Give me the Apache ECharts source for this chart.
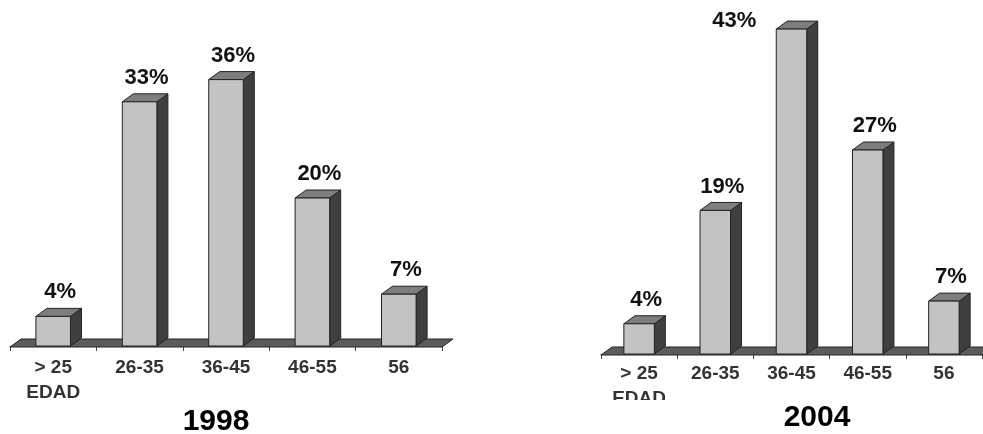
<!DOCTYPE html>
<html>
<head>
<meta charset="utf-8">
<script src="https://cdn.jsdelivr.net/npm/echarts@6/dist/echarts.min.js"></script>
<style>
  html, body { margin: 0; padding: 0; background: #ffffff; }
  #chart { width: 983px; height: 434px; }
</style>
</head>
<body>
<div id="chart"></div>
<script>
// Age groups and the share of each group (%) for the two survey years
const ageGroups = ['> 25\nEDAD', '26-35', '36-45', '46-55', '56'];
const share1998 = [4, 33, 36, 20, 7];
const share2004 = [4, 19, 43, 27, 7];
const yearTitles = ['1998', '2004'];

// Pseudo-3D extrusion of bars and floor
const DEPTH_X = 11;
const DEPTH_Y = 8;
const FONT = '"Liberation Sans", Arial, sans-serif';

const FRONT = '#c3c3c3';
const TOP = '#7e7e7e';
const SIDE = '#3f3f3f';
const FLOOR = '#5c5c5c';
const EDGE = '#222222';

function renderFloor(params, api) {
  const cs = params.coordSys;
  const yb = cs.y + cs.height;
  const x0 = cs.x, x1 = cs.x + cs.width;
  return {
    type: 'polygon',
    shape: { points: [[x0, yb + 1], [x1, yb + 1], [x1 + DEPTH_X, yb + 1 - DEPTH_Y], [x0 + DEPTH_X, yb + 1 - DEPTH_Y]] },
    style: { fill: FLOOR, stroke: EDGE, lineWidth: 1 }
  };
}

function renderBar(params, api) {
  const idx = api.value(0);
  const val = api.value(1);
  const base = api.coord([idx, 0]);
  const top = api.coord([idx, val]);
  const bw = api.size([1, 0])[0] * 0.4;
  const x0 = base[0] - bw / 2, x1 = base[0] + bw / 2;
  const yb = base[1], yt = top[1];
  const dx = DEPTH_X, dy = DEPTH_Y;

  // Value label sits above the bar; when there is no room it moves to the left of the top
  let lx = base[0] + 7, ly = yt - dy - 16;
  if (ly - 11 < 0) { lx = x0 - 42; ly = yt - dy; }

  return {
    type: 'group',
    children: [
      { type: 'polygon',
        shape: { points: [[x1, yt], [x1 + dx, yt - dy], [x1 + dx, yb - dy], [x1, yb]] },
        style: { fill: SIDE, stroke: EDGE, lineWidth: 1 } },
      { type: 'polygon',
        shape: { points: [[x0, yt], [x1, yt], [x1 + dx, yt - dy], [x0 + dx, yt - dy]] },
        style: { fill: TOP, stroke: EDGE, lineWidth: 1 } },
      { type: 'rect',
        shape: { x: x0, y: yt, width: x1 - x0, height: yb - yt },
        style: { fill: FRONT, stroke: EDGE, lineWidth: 1 } },
      { type: 'text',
        style: { text: val + '%', x: lx, y: ly, align: 'center', verticalAlign: 'middle',
                 font: 'bold 22px ' + FONT, fill: '#111111' } }
    ]
  };
}

function xAxisFor(gridIndex, margin) {
  return {
    type: 'category', gridIndex: gridIndex, data: ageGroups,
    axisLine: { show: true, lineStyle: { color: EDGE, width: 1 } },
    axisTick: { show: true, alignWithLabel: false, length: 5, lineStyle: { color: '#444', width: 1 } },
    axisLabel: { margin: margin, fontFamily: FONT, fontWeight: 'bold', fontSize: 19, lineHeight: 25, color: '#333333', interval: 0 },
    splitLine: { show: false }
  };
}

function yAxisFor(gridIndex) {
  return { type: 'value', gridIndex: gridIndex, min: 0, max: 45, show: false, splitLine: { show: false } };
}

function pairs(values) {
  return values.map((v, i) => [i, v]);
}

const chart = echarts.init(document.getElementById('chart'), null, { renderer: 'canvas' });
chart.setOption({
  animation: false,
  backgroundColor: '#ffffff',
  title: [
    { text: yearTitles[0], left: 216, top: 407, textAlign: 'center', padding: 0,
      textStyle: { fontFamily: FONT, fontSize: 30, fontWeight: 'bold', color: '#000' } },
    { text: yearTitles[1], left: 817, top: 403, textAlign: 'center', padding: 0,
      textStyle: { fontFamily: FONT, fontSize: 30, fontWeight: 'bold', color: '#000' } }
  ],
  // the lower-left panel edge of the 2004 chart trims the second line of its first label
  graphic: [
    { type: 'rect', left: 600, top: 400, shape: { width: 80, height: 34 }, style: { fill: '#ffffff' }, z: 100 }
  ],
  grid: [
    { left: 10, width: 432, top: 13, bottom: 88, containLabel: false },
    { left: 601, width: 381, top: 14, bottom: 80, containLabel: false }
  ],
  xAxis: [xAxisFor(0, 9), xAxisFor(1, 7)],
  yAxis: [yAxisFor(0), yAxisFor(1)],
  series: [
    { type: 'custom', xAxisIndex: 0, yAxisIndex: 0, data: [[0, 0]], renderItem: renderFloor, z: 1, silent: true },
    { type: 'custom', xAxisIndex: 0, yAxisIndex: 0, data: pairs(share1998), renderItem: renderBar, z: 2, clip: false },
    { type: 'custom', xAxisIndex: 1, yAxisIndex: 1, data: [[0, 0]], renderItem: renderFloor, z: 1, silent: true },
    { type: 'custom', xAxisIndex: 1, yAxisIndex: 1, data: pairs(share2004), renderItem: renderBar, z: 2, clip: false }
  ]
});
</script>
</body>
</html>
